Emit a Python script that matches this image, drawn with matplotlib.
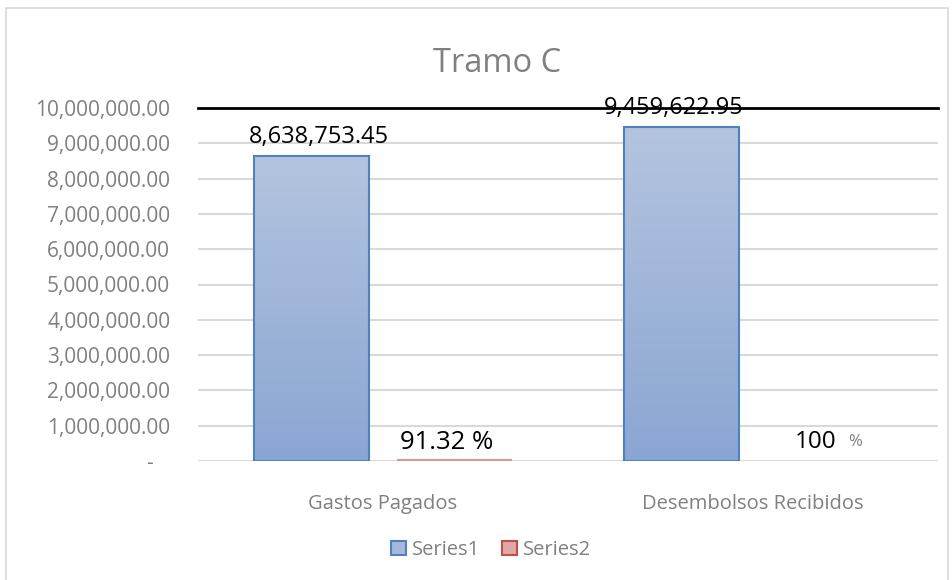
import numpy as np
import matplotlib
matplotlib.use("Agg")
import matplotlib.pyplot as plt
from matplotlib.patches import Rectangle
from matplotlib.ticker import FuncFormatter

# datos
categorias = ["Gastos Pagados", "Desembolsos Recibidos"]
series1 = [8638753.45, 9459622.95]
series2 = [91.32, 100]
series_names = ["Series1", "Series2"]
yticks = np.arange(0, 10000001, 1000000)

GRIS = "#808080"
SANS = ["Open Sans", "DejaVu Sans"]

fig = plt.figure(figsize=(9.53, 5.80), dpi=100)
fig.patches.append(Rectangle((6 / 953, -0.1), 942 / 953, 1.1 - 8 / 580, transform=fig.transFigure,
                             fill=False, edgecolor="#d9d9d9", linewidth=1.2))
ax = fig.add_axes([198 / 953, 1 - 461 / 580, 740 / 953, 353 / 580])

x = np.arange(len(categorias))
w = 0.311
off = 0.193

bars1 = ax.bar(x - off, series1, width=w, color="none", edgecolor="#4f81bd", linewidth=1.5, zorder=3)
# degradado de las barras azules
grad = np.linspace(0, 1, 256).reshape(-1, 1)
cmap = matplotlib.colors.LinearSegmentedColormap.from_list("g", ["#b4c4df", "#8aa6d3"])
for b in bars1:
    im = ax.imshow(grad, cmap=cmap, aspect="auto", origin="upper", zorder=2,
                   extent=[b.get_x(), b.get_x() + b.get_width(), 0, b.get_height()])
    im.set_clip_path(b)

bars2 = ax.bar(x + off, series2, width=w, color="#d99694", edgecolor=["#d99694", "none"],
               linewidth=3, zorder=3)

ax.set_xlim(-0.5, 1.5)
ax.set_ylim(0, 10000000)
ax.set_yticks(yticks)
ax.yaxis.set_major_formatter(FuncFormatter(lambda v, p: "-   " if v == 0 else f"{v:,.2f}"))
for t in yticks[:-1]:
    ax.axhline(t, color="#d9d9d9", linewidth=1.5, zorder=0)
ax.axhline(yticks[-1], color="black", linewidth=2, zorder=1, clip_on=False)
for s in ax.spines.values():
    s.set_visible(False)
ax.tick_params(length=0)
ax.tick_params(axis="y", pad=20, labelcolor=GRIS, labelsize=15)
ax.tick_params(axis="x", pad=24, labelcolor=GRIS, labelsize=14.5)
ax.set_xticks(x)
ax.set_xticklabels(categorias)
for lab in ax.get_yticklabels() + ax.get_xticklabels():
    lab.set_family(SANS)

# etiquetas de datos
ax.text(x[0] - off + 0.02, series1[0] + 530000, f"{series1[0]:,.2f}", ha="center", va="center",
        fontsize=17, family=SANS, zorder=5)
ax.text(x[1] - off - 0.02, series1[1] + 530000, f"{series1[1]:,.2f}", ha="center", va="center",
        fontsize=17, family=SANS, zorder=5)
ax.text(x[0] + off - 0.02, series2[0] + 530000, f"{series2[0]:.2f} %", ha="center", va="center",
        fontsize=18.5, family=SANS, zorder=5)
ax.text(x[1] + off - 0.023, series2[1] + 530000, f"{series2[1]:.0f}", ha="center", va="center",
        fontsize=17.5, family=SANS, zorder=5)
ax.text(x[1] + off + 0.083, series2[1] + 530000, "%", ha="center", va="center",
        fontsize=12, family=SANS, color=GRIS, zorder=5)

fig.suptitle("Tramo C", x=497 / 953, y=1 - 63 / 580, va="center", fontsize=23.5, color=GRIS,
             family=SANS)

leg = ax.legend([bars1[0], bars2[0]], series_names, loc="center", bbox_to_anchor=(491 / 953, 1 - 550 / 580),
                bbox_transform=fig.transFigure, ncol=2, frameon=False, handlelength=0.75, handleheight=0.75,
                handletextpad=0.3, columnspacing=1.1, prop={"family": SANS, "size": 14.5})
for t in leg.get_texts():
    t.set_color(GRIS)
leg.legend_handles[0].set_facecolor("#a5b8dc")
leg.legend_handles[0].set_edgecolor("#4f81bd")
leg.legend_handles[0].set_linewidth(1.5)
leg.legend_handles[1].set_facecolor("#e0a9a8")
leg.legend_handles[1].set_edgecolor("#c0504d")
leg.legend_handles[1].set_linewidth(1.5)

fig.savefig("out.png", dpi=100)
